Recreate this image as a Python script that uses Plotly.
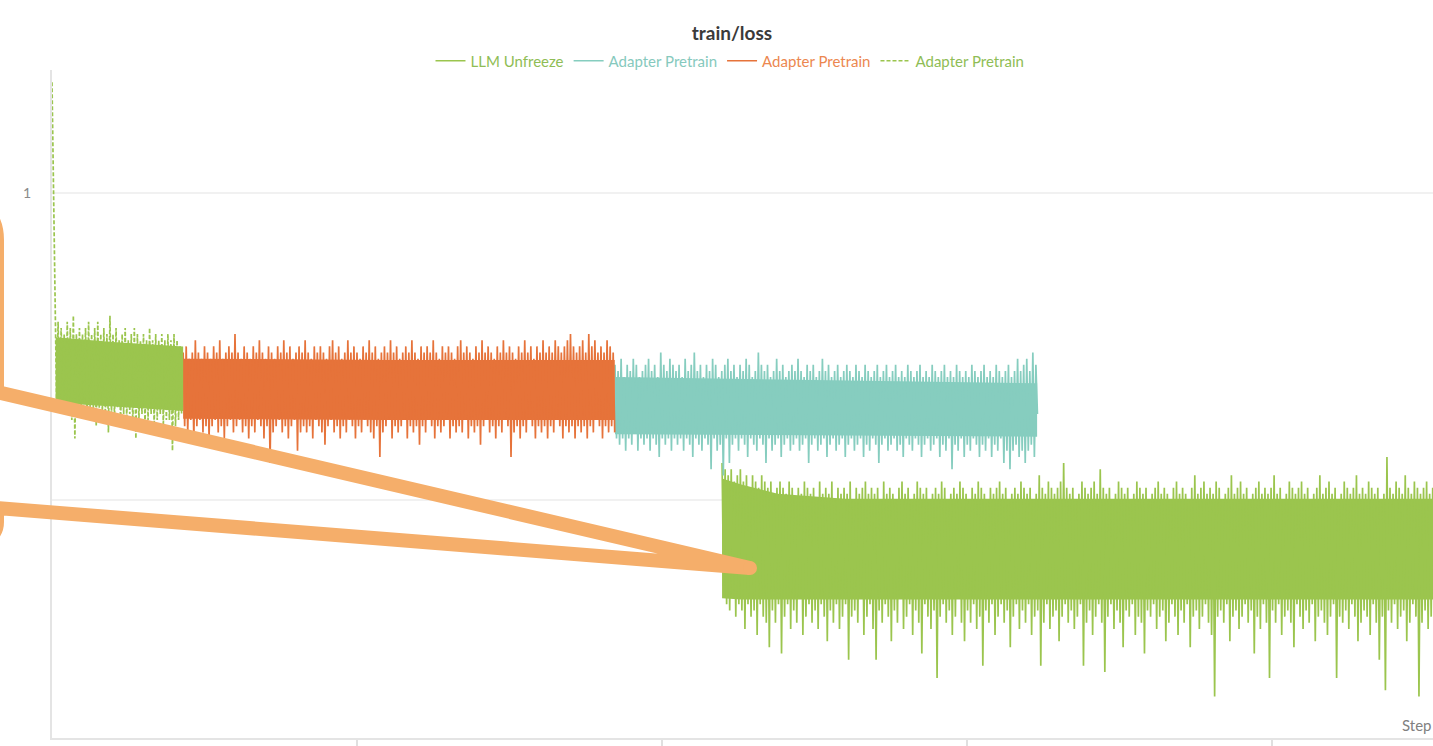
import numpy as np
import plotly.graph_objects as go

# ---------------------------------------------------------------- data
STEP_STRIDE = 25  # loss logged every 25 steps

# warm-up run (green, dashed) - starts at step 0
warmup_start = 0
warmup_loss = [
    1.18, 0.98, 0.84, 0.66, 0.79, 0.65, 0.78, 0.66, 0.77, 0.64,
    0.79, 0.65, 0.78, 0.63, 0.80, 0.60, 0.77, 0.65, 0.78, 0.64,
    0.77, 0.66, 0.78, 0.63, 0.79, 0.65, 0.77, 0.64, 0.78, 0.62,
    0.79, 0.65, 0.77, 0.64, 0.78, 0.63, 0.77, 0.61, 0.80, 0.64,
    0.77, 0.63, 0.78, 0.65, 0.76, 0.62, 0.77, 0.64, 0.78, 0.63,
    0.76, 0.64, 0.77, 0.62, 0.78, 0.60, 0.77, 0.63, 0.76, 0.64,
    0.77, 0.62, 0.76, 0.63, 0.78, 0.64, 0.76, 0.62, 0.77, 0.63,
    0.76, 0.64, 0.77, 0.62, 0.76, 0.63, 0.77, 0.63, 0.76, 0.58,
    0.77, 0.62, 0.76, 0.63, 0.75, 0.64,
]
warmup_band_steps = [60, 1000, 2150]
warmup_band_hi = [0.765, 0.757, 0.75]
warmup_band_lo = [0.658, 0.652, 0.645]

# adapter pretrain run (orange)
orange_start = 2150
orange_loss = [
    0.74, 0.62, 0.75, 0.61, 0.73, 0.63, 0.74, 0.60, 0.76, 0.62, 0.74, 0.63, 0.73, 0.61, 0.75, 0.62, 0.74, 0.60, 0.73, 0.62,
    0.75, 0.63, 0.74, 0.61, 0.76, 0.62, 0.73, 0.60, 0.74, 0.62, 0.75, 0.63, 0.74, 0.61, 0.77, 0.62, 0.74, 0.63, 0.73, 0.61,
    0.75, 0.62, 0.74, 0.60, 0.73, 0.62, 0.75, 0.61, 0.74, 0.63, 0.76, 0.62, 0.74, 0.60, 0.73, 0.62, 0.75, 0.56, 0.74, 0.61,
    0.73, 0.62, 0.75, 0.63, 0.74, 0.61, 0.76, 0.62, 0.74, 0.60, 0.75, 0.62, 0.73, 0.63, 0.74, 0.58, 0.75, 0.61, 0.74, 0.62,
    0.76, 0.61, 0.74, 0.62, 0.73, 0.60, 0.75, 0.63, 0.74, 0.62, 0.75, 0.61, 0.74, 0.59, 0.73, 0.62, 0.75, 0.63, 0.76, 0.61,
    0.74, 0.62, 0.75, 0.60, 0.73, 0.62, 0.74, 0.61, 0.76, 0.63, 0.74, 0.62, 0.75, 0.60, 0.74, 0.62, 0.73, 0.61, 0.75, 0.63,
    0.74, 0.62, 0.76, 0.61, 0.74, 0.60, 0.75, 0.62, 0.73, 0.57, 0.74, 0.61, 0.75, 0.62, 0.74, 0.63, 0.76, 0.60, 0.74, 0.62,
    0.75, 0.61, 0.73, 0.62, 0.74, 0.63, 0.75, 0.60, 0.74, 0.62, 0.76, 0.61, 0.74, 0.62, 0.73, 0.59, 0.75, 0.62, 0.74, 0.61,
    0.75, 0.63, 0.74, 0.62, 0.76, 0.60, 0.74, 0.62, 0.73, 0.61, 0.75, 0.62, 0.74, 0.63, 0.75, 0.60, 0.74, 0.62, 0.73, 0.61,
    0.75, 0.62, 0.76, 0.61, 0.74, 0.63, 0.75, 0.60, 0.74, 0.62, 0.73, 0.61, 0.75, 0.62, 0.74, 0.59, 0.76, 0.62, 0.74, 0.63,
    0.75, 0.61, 0.74, 0.62, 0.73, 0.60, 0.75, 0.62, 0.74, 0.61, 0.76, 0.63, 0.74, 0.62, 0.75, 0.57, 0.74, 0.61, 0.73, 0.62,
    0.75, 0.60, 0.74, 0.62, 0.76, 0.61, 0.74, 0.63, 0.75, 0.62, 0.73, 0.60, 0.75, 0.62, 0.74, 0.61, 0.76, 0.62, 0.74, 0.60,
    0.75, 0.62, 0.74, 0.61, 0.76, 0.63, 0.75, 0.62, 0.74, 0.60, 0.75, 0.62, 0.76, 0.61, 0.77, 0.62, 0.75, 0.60, 0.74, 0.62,
    0.75, 0.61, 0.76, 0.62, 0.74, 0.60, 0.77, 0.62, 0.75, 0.61, 0.76, 0.63, 0.74, 0.62, 0.75, 0.60, 0.74, 0.62, 0.76, 0.61,
    0.75, 0.62, 0.74, 0.61,
]
orange_band_steps = [2150, 5500, 9225]
orange_band_hi = [0.73, 0.728, 0.728]
orange_band_lo = [0.632, 0.63, 0.63]

# adapter pretrain run (teal)
teal_start = 9230
teal_loss = [
    0.72, 0.60, 0.71, 0.59, 0.73, 0.60, 0.70, 0.58, 0.72, 0.60, 0.71, 0.59, 0.73, 0.61, 0.72, 0.58, 0.70, 0.60, 0.71, 0.59,
    0.72, 0.60, 0.73, 0.58, 0.71, 0.60, 0.72, 0.59, 0.70, 0.57, 0.74, 0.60, 0.72, 0.59, 0.71, 0.60, 0.73, 0.58, 0.72, 0.60,
    0.71, 0.59, 0.72, 0.60, 0.70, 0.58, 0.73, 0.60, 0.71, 0.59, 0.72, 0.57, 0.74, 0.60, 0.71, 0.59, 0.72, 0.58, 0.70, 0.60,
    0.72, 0.59, 0.71, 0.55, 0.73, 0.60, 0.72, 0.58, 0.70, 0.59, 0.71, 0.54, 0.72, 0.60, 0.73, 0.56, 0.71, 0.59, 0.72, 0.60,
    0.70, 0.58, 0.72, 0.60, 0.71, 0.59, 0.73, 0.57, 0.72, 0.60, 0.70, 0.59, 0.71, 0.58, 0.74, 0.60, 0.72, 0.59, 0.71, 0.56,
    0.72, 0.60, 0.70, 0.58, 0.71, 0.59, 0.73, 0.60, 0.71, 0.57, 0.72, 0.59, 0.70, 0.60, 0.71, 0.58, 0.72, 0.59, 0.71, 0.60,
    0.73, 0.58, 0.71, 0.59, 0.70, 0.60, 0.72, 0.56, 0.71, 0.59, 0.72, 0.60, 0.70, 0.58, 0.71, 0.59, 0.73, 0.60, 0.71, 0.57,
    0.72, 0.59, 0.70, 0.60, 0.71, 0.58, 0.72, 0.59, 0.70, 0.60, 0.71, 0.57, 0.72, 0.59, 0.71, 0.60, 0.70, 0.58, 0.72, 0.59,
    0.71, 0.60, 0.70, 0.57, 0.72, 0.59, 0.71, 0.58, 0.70, 0.60, 0.71, 0.59, 0.72, 0.56, 0.70, 0.59, 0.71, 0.60, 0.72, 0.58,
    0.70, 0.59, 0.71, 0.60, 0.72, 0.58, 0.70, 0.59, 0.71, 0.57, 0.70, 0.60, 0.72, 0.59, 0.71, 0.58, 0.70, 0.60, 0.71, 0.59,
    0.72, 0.57, 0.70, 0.59, 0.71, 0.60, 0.70, 0.58, 0.72, 0.59, 0.71, 0.60, 0.70, 0.57, 0.71, 0.59, 0.72, 0.58, 0.70, 0.60,
    0.71, 0.55, 0.70, 0.59, 0.72, 0.58, 0.71, 0.60, 0.70, 0.57, 0.71, 0.59, 0.70, 0.58, 0.72, 0.60, 0.71, 0.59, 0.70, 0.57,
    0.71, 0.59, 0.72, 0.58, 0.70, 0.60, 0.71, 0.57, 0.70, 0.59, 0.72, 0.58, 0.71, 0.60, 0.70, 0.56, 0.71, 0.58, 0.72, 0.55,
    0.70, 0.58, 0.71, 0.59, 0.73, 0.57, 0.71, 0.58, 0.72, 0.56, 0.73, 0.58, 0.71, 0.59, 0.74, 0.57, 0.72, 0.64,
]
teal_band_steps = [9230, 12700, 16150]
teal_band_hi = [0.70, 0.695, 0.69]
teal_band_lo = [0.607, 0.605, 0.603]

# LLM unfreeze run (green)
unfreeze_start = 10985
unfreeze_loss = [
    0.56, 0.36, 0.55, 0.33, 0.54, 0.32, 0.55, 0.34, 0.53, 0.31, 0.54, 0.33, 0.55, 0.32, 0.53, 0.29, 0.54, 0.33, 0.52, 0.31,
    0.54, 0.32, 0.53, 0.28, 0.52, 0.33, 0.54, 0.31, 0.53, 0.30, 0.52, 0.26, 0.53, 0.32, 0.51, 0.30, 0.52, 0.33, 0.53, 0.25,
    0.52, 0.31, 0.51, 0.33, 0.53, 0.29, 0.52, 0.32, 0.50, 0.30, 0.52, 0.34, 0.51, 0.28, 0.53, 0.31, 0.52, 0.33, 0.51, 0.30,
    0.52, 0.32, 0.50, 0.29, 0.53, 0.33, 0.51, 0.31, 0.52, 0.27, 0.51, 0.32, 0.53, 0.30, 0.50, 0.33, 0.52, 0.29, 0.51, 0.31,
    0.52, 0.33, 0.51, 0.24, 0.53, 0.31, 0.50, 0.32, 0.52, 0.30, 0.51, 0.34, 0.52, 0.28, 0.53, 0.31, 0.51, 0.33, 0.52, 0.29,
    0.51, 0.24, 0.52, 0.32, 0.50, 0.30, 0.53, 0.33, 0.51, 0.31, 0.52, 0.27, 0.51, 0.32, 0.50, 0.30, 0.52, 0.34, 0.53, 0.29,
    0.51, 0.31, 0.52, 0.33, 0.50, 0.28, 0.51, 0.32, 0.53, 0.30, 0.52, 0.25, 0.51, 0.33, 0.52, 0.31, 0.50, 0.29, 0.51, 0.32,
    0.52, 0.21, 0.51, 0.31, 0.53, 0.33, 0.52, 0.30, 0.50, 0.32, 0.51, 0.28, 0.52, 0.31, 0.51, 0.34, 0.53, 0.30, 0.52, 0.27,
    0.51, 0.32, 0.50, 0.30, 0.52, 0.33, 0.51, 0.29, 0.53, 0.31, 0.52, 0.23, 0.51, 0.32, 0.50, 0.30, 0.52, 0.33, 0.51, 0.28,
    0.52, 0.31, 0.53, 0.33, 0.51, 0.30, 0.52, 0.32, 0.50, 0.26, 0.51, 0.31, 0.52, 0.33, 0.51, 0.29, 0.53, 0.32, 0.52, 0.30,
    0.51, 0.33, 0.52, 0.28, 0.50, 0.31, 0.51, 0.32, 0.54, 0.23, 0.52, 0.30, 0.51, 0.33, 0.53, 0.29, 0.52, 0.31, 0.51, 0.32,
    0.52, 0.27, 0.53, 0.31, 0.56, 0.33, 0.52, 0.30, 0.51, 0.32, 0.52, 0.29, 0.50, 0.31, 0.51, 0.33, 0.53, 0.23, 0.52, 0.30,
    0.51, 0.32, 0.52, 0.28, 0.53, 0.31, 0.51, 0.33, 0.55, 0.30, 0.52, 0.22, 0.51, 0.31, 0.52, 0.33, 0.50, 0.29, 0.51, 0.32,
    0.53, 0.30, 0.52, 0.26, 0.51, 0.32, 0.52, 0.31, 0.50, 0.33, 0.51, 0.28, 0.53, 0.31, 0.52, 0.30, 0.51, 0.25, 0.52, 0.32,
    0.50, 0.31, 0.51, 0.33, 0.52, 0.29, 0.53, 0.31, 0.51, 0.32, 0.52, 0.27, 0.51, 0.30, 0.50, 0.33, 0.52, 0.31, 0.53, 0.28,
    0.51, 0.32, 0.52, 0.30, 0.51, 0.33, 0.50, 0.26, 0.52, 0.31, 0.54, 0.32, 0.51, 0.29, 0.52, 0.31, 0.53, 0.33, 0.51, 0.30,
    0.52, 0.28, 0.51, 0.18, 0.53, 0.31, 0.52, 0.32, 0.50, 0.30, 0.51, 0.33, 0.52, 0.27, 0.54, 0.31, 0.51, 0.32, 0.52, 0.29,
    0.53, 0.31, 0.51, 0.33, 0.52, 0.30, 0.50, 0.32, 0.51, 0.25, 0.52, 0.31, 0.53, 0.29, 0.51, 0.33, 0.52, 0.30, 0.51, 0.21,
    0.52, 0.32, 0.54, 0.30, 0.51, 0.33, 0.52, 0.28, 0.50, 0.31, 0.51, 0.32, 0.53, 0.30, 0.52, 0.26, 0.51, 0.33, 0.52, 0.31,
    0.53, 0.29, 0.51, 0.32, 0.52, 0.30, 0.50, 0.33, 0.51, 0.27, 0.52, 0.31, 0.54, 0.32, 0.51, 0.30, 0.52, 0.28, 0.53, 0.31,
    0.51, 0.33, 0.52, 0.21, 0.50, 0.31, 0.51, 0.30, 0.53, 0.32, 0.52, 0.29, 0.51, 0.33, 0.52, 0.31, 0.54, 0.27, 0.51, 0.30,
    0.52, 0.32, 0.51, 0.31, 0.53, 0.28, 0.52, 0.33, 0.51, 0.30, 0.52, 0.24, 0.50, 0.31, 0.51, 0.19, 0.57, 0.32, 0.52, 0.30,
    0.51, 0.33, 0.53, 0.29, 0.52, 0.31, 0.51, 0.32, 0.54, 0.27, 0.52, 0.30, 0.51, 0.33, 0.53, 0.31, 0.52, 0.18, 0.51, 0.30,
    0.52, 0.32, 0.53, 0.29, 0.51, 0.31, 0.52, 0.33, 0.50, 0.30, 0.52, 0.28,
]
unfreeze_band_steps = [10985, 11300, 11900, 13000, 22800]
unfreeze_band_hi = [0.535, 0.525, 0.51, 0.502, 0.502]
unfreeze_band_lo = [0.34, 0.338, 0.338, 0.338, 0.338]

y_ticks = [0.5, 1.0]
y_tick_labels = ["", "1"]
x_ticks = [5000, 10000, 15000, 20000]

# ---------------------------------------------------------------- style
GREEN = "#9bc54e"
TEAL = "#86cdbf"
ORANGE = "#e6733a"
CALLOUT = "#f5ae6a"
FONT = "Lato, 'Open Sans', sans-serif"

W, H = 1433, 746
M_L, M_R, M_T, M_B = 52, 0, 70, 8
PLOT_W, PLOT_H = W - M_L - M_R, H - M_T - M_B


def steps(start, n):
    return start + STEP_STRIDE * np.arange(n)


def band_trace(xs, hi, lo, color, group):
    # dense part of the noisy loss curve
    return go.Scatter(
        x=list(xs) + list(xs)[::-1],
        y=list(hi) + list(lo)[::-1],
        fill="toself", fillcolor=color, mode="lines",
        line=dict(width=0, color=color),
        legendgroup=group, showlegend=False, hoverinfo="skip",
    )


def loss_trace(xs, ys, color, label, label_color, group, dash="solid"):
    return go.Scatter(
        x=xs, y=ys, mode="lines",
        line=dict(color=color, width=1.7, dash=dash),
        name=f'<span style="color:{label_color}">{label}</span>',
        legendgroup=group,
    )


def px(x, y):
    """pixel position on the page -> paper coordinates"""
    return (x - M_L) / PLOT_W, (H - M_B - y) / PLOT_H


fig = go.Figure()

fig.add_trace(band_trace(unfreeze_band_steps, unfreeze_band_hi, unfreeze_band_lo, GREEN, "g1"))
fig.add_trace(loss_trace(steps(unfreeze_start, len(unfreeze_loss)), unfreeze_loss,
                         GREEN, "LLM Unfreeze", "#8fbd55", "g1"))

fig.add_trace(band_trace(teal_band_steps, teal_band_hi, teal_band_lo, TEAL, "t"))
fig.add_trace(loss_trace(steps(teal_start, len(teal_loss)), teal_loss,
                         TEAL, "Adapter Pretrain", "#86c9bd", "t"))

fig.add_trace(band_trace(orange_band_steps, orange_band_hi, orange_band_lo, ORANGE, "o"))
fig.add_trace(loss_trace(steps(orange_start, len(orange_loss)), orange_loss,
                         ORANGE, "Adapter Pretrain", "#ec8750", "o"))

fig.add_trace(band_trace(warmup_band_steps, warmup_band_hi, warmup_band_lo, GREEN, "g2"))
fig.add_trace(loss_trace(steps(warmup_start, len(warmup_loss)), warmup_loss,
                         GREEN, "Adapter Pretrain", "#8fbd55", "g2", dash="4px,2px"))

# callout outline with its pointer
pts = [(-60, 197), (-3, 197), (-3, 240), (-3, 392), (750, 568), (-3, 508), (-3, 522), (-3, 548), (-60, 548)]
p = [px(*q) for q in pts]
path = (f"M{p[0][0]},{p[0][1]} Q{p[1][0]},{p[1][1]} {p[2][0]},{p[2][1]} "
        f"L{p[3][0]},{p[3][1]} L{p[4][0]},{p[4][1]} L{p[5][0]},{p[5][1]} "
        f"L{p[6][0]},{p[6][1]} Q{p[7][0]},{p[7][1]} {p[8][0]},{p[8][1]}")
shapes = [dict(type="path", xref="paper", yref="paper", path=path,
               line=dict(color=CALLOUT, width=14))]
c0 = px(743, 561)
c1 = px(757, 575)
shapes.append(dict(type="circle", xref="paper", yref="paper",
                   x0=c0[0], y0=c1[1], x1=c1[0], y1=c0[1],
                   fillcolor=CALLOUT, line=dict(width=0)))

fig.update_layout(
    width=W, height=H,
    margin=dict(l=M_L, r=M_R, t=M_T, b=M_B, autoexpand=False),
    paper_bgcolor="white", plot_bgcolor="white",
    font=dict(family=FONT, color="#777"),
    title=dict(text="<b>train/loss</b>", xref="paper", x=px(732, 0)[0], xanchor="center",
               yref="container", y=1 - 33 / H, yanchor="middle",
               font=dict(size=19, color="#3a3a3a", family=FONT)),
    legend=dict(orientation="h", xref="paper", x=px(730, 0)[0], xanchor="center",
                yref="paper", y=px(0, 61)[1], yanchor="middle",
                font=dict(size=15, family=FONT), bgcolor="rgba(0,0,0,0)",
                itemwidth=30, tracegroupgap=0),
    showlegend=True,
    shapes=shapes,
    annotations=[dict(text="Step", xref="paper", yref="paper", x=1, xanchor="right",
                      y=px(0, 725)[1], yanchor="middle", showarrow=False,
                      font=dict(size=15, color="#808080", family=FONT))],
    xaxis=dict(range=[0, 22640], showgrid=False, zeroline=False,
               showline=True, linecolor="#e4e4e4", linewidth=2,
               tickvals=x_ticks, showticklabels=False,
               ticks="outside", ticklen=9, tickwidth=1.5, tickcolor="#e0e0e0"),
    yaxis=dict(range=[0.1124, 1.2], showgrid=True, gridcolor="#f1f1f1", gridwidth=1.5,
               zeroline=False, showline=True, linecolor="#e4e4e4", linewidth=2,
               tickvals=y_ticks, ticktext=y_tick_labels, ticks="",
               ticklabelstandoff=16,
               tickfont=dict(size=14, color="#8a8a8a", family=FONT)),
)

fig.write_html("out.html")
